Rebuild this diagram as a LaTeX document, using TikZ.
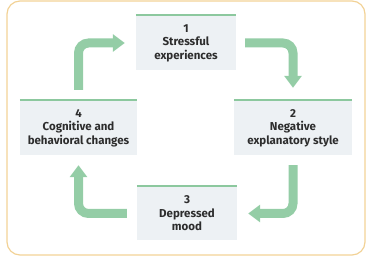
\documentclass[tikz,border=0pt]{standalone}
\usepackage{fontspec}
\setmainfont{Fira Sans}
\usetikzlibrary{arrows.meta}
\definecolor{frameorange}{RGB}{242,210,150}
\definecolor{boxfill}{RGB}{237,241,244}
\definecolor{cyclegreen}{RGB}{148,205,166}
\definecolor{linegreen}{RGB}{140,200,158}
\definecolor{textgrey}{RGB}{45,45,45}
\begin{document}
\begin{tikzpicture}[x=1pt,y=-1pt,
  stagebox/.style={fill=boxfill,draw=none,minimum height=54pt,inner sep=0pt,
    align=center,text=textgrey,font=\fontsize{11.5}{13.5}\selectfont\bfseries},
  cyclearrow/.style={draw=cyclegreen,line width=9pt,rounded corners=10pt,
    -{Triangle[length=12pt,width=17pt]}},
  topline/.style={draw=linegreen,line width=2pt}]
\useasboundingbox (0,0) rectangle (372,264);
\draw[frameorange,line width=1.2pt,rounded corners=13pt] (7,1) rectangle (365,255);
\node[stagebox,minimum width=100pt] (s1) at (186,43) {1\\Stressful\\experiences};
\node[stagebox,minimum width=118pt] (s2) at (293,128) {2\\Negative\\explanatory style};
\node[stagebox,minimum width=100pt,minimum height=53pt] (s3) at (187,213.5) {3\\Depressed\\mood};
\node[stagebox,minimum width=117pt] (s4) at (78.5,128) {4\\Cognitive and\\behavioral changes};
\foreach \n in {s1,s2,s3,s4}{
  \draw[topline] ([yshift=1pt]\n.north west) -- ([yshift=1pt]\n.north east);
}
\draw[cyclearrow] ([yshift=11pt]s4.north) -- (s4.north |- s1.west) -- ([xshift=-11pt]s1.west);
\draw[cyclearrow] ([xshift=9pt]s1.east) -- (s2.north |- s1.east) -- ([yshift=13pt]s2.north);
\draw[cyclearrow] ([yshift=-10pt]s2.south) -- (s2.south |- s3.east) -- ([xshift=11pt]s3.east);
\draw[cyclearrow] ([xshift=-10pt]s3.west) -- (s4.south |- s3.west) -- ([yshift=-10pt]s4.south);
\end{tikzpicture}
\end{document}
